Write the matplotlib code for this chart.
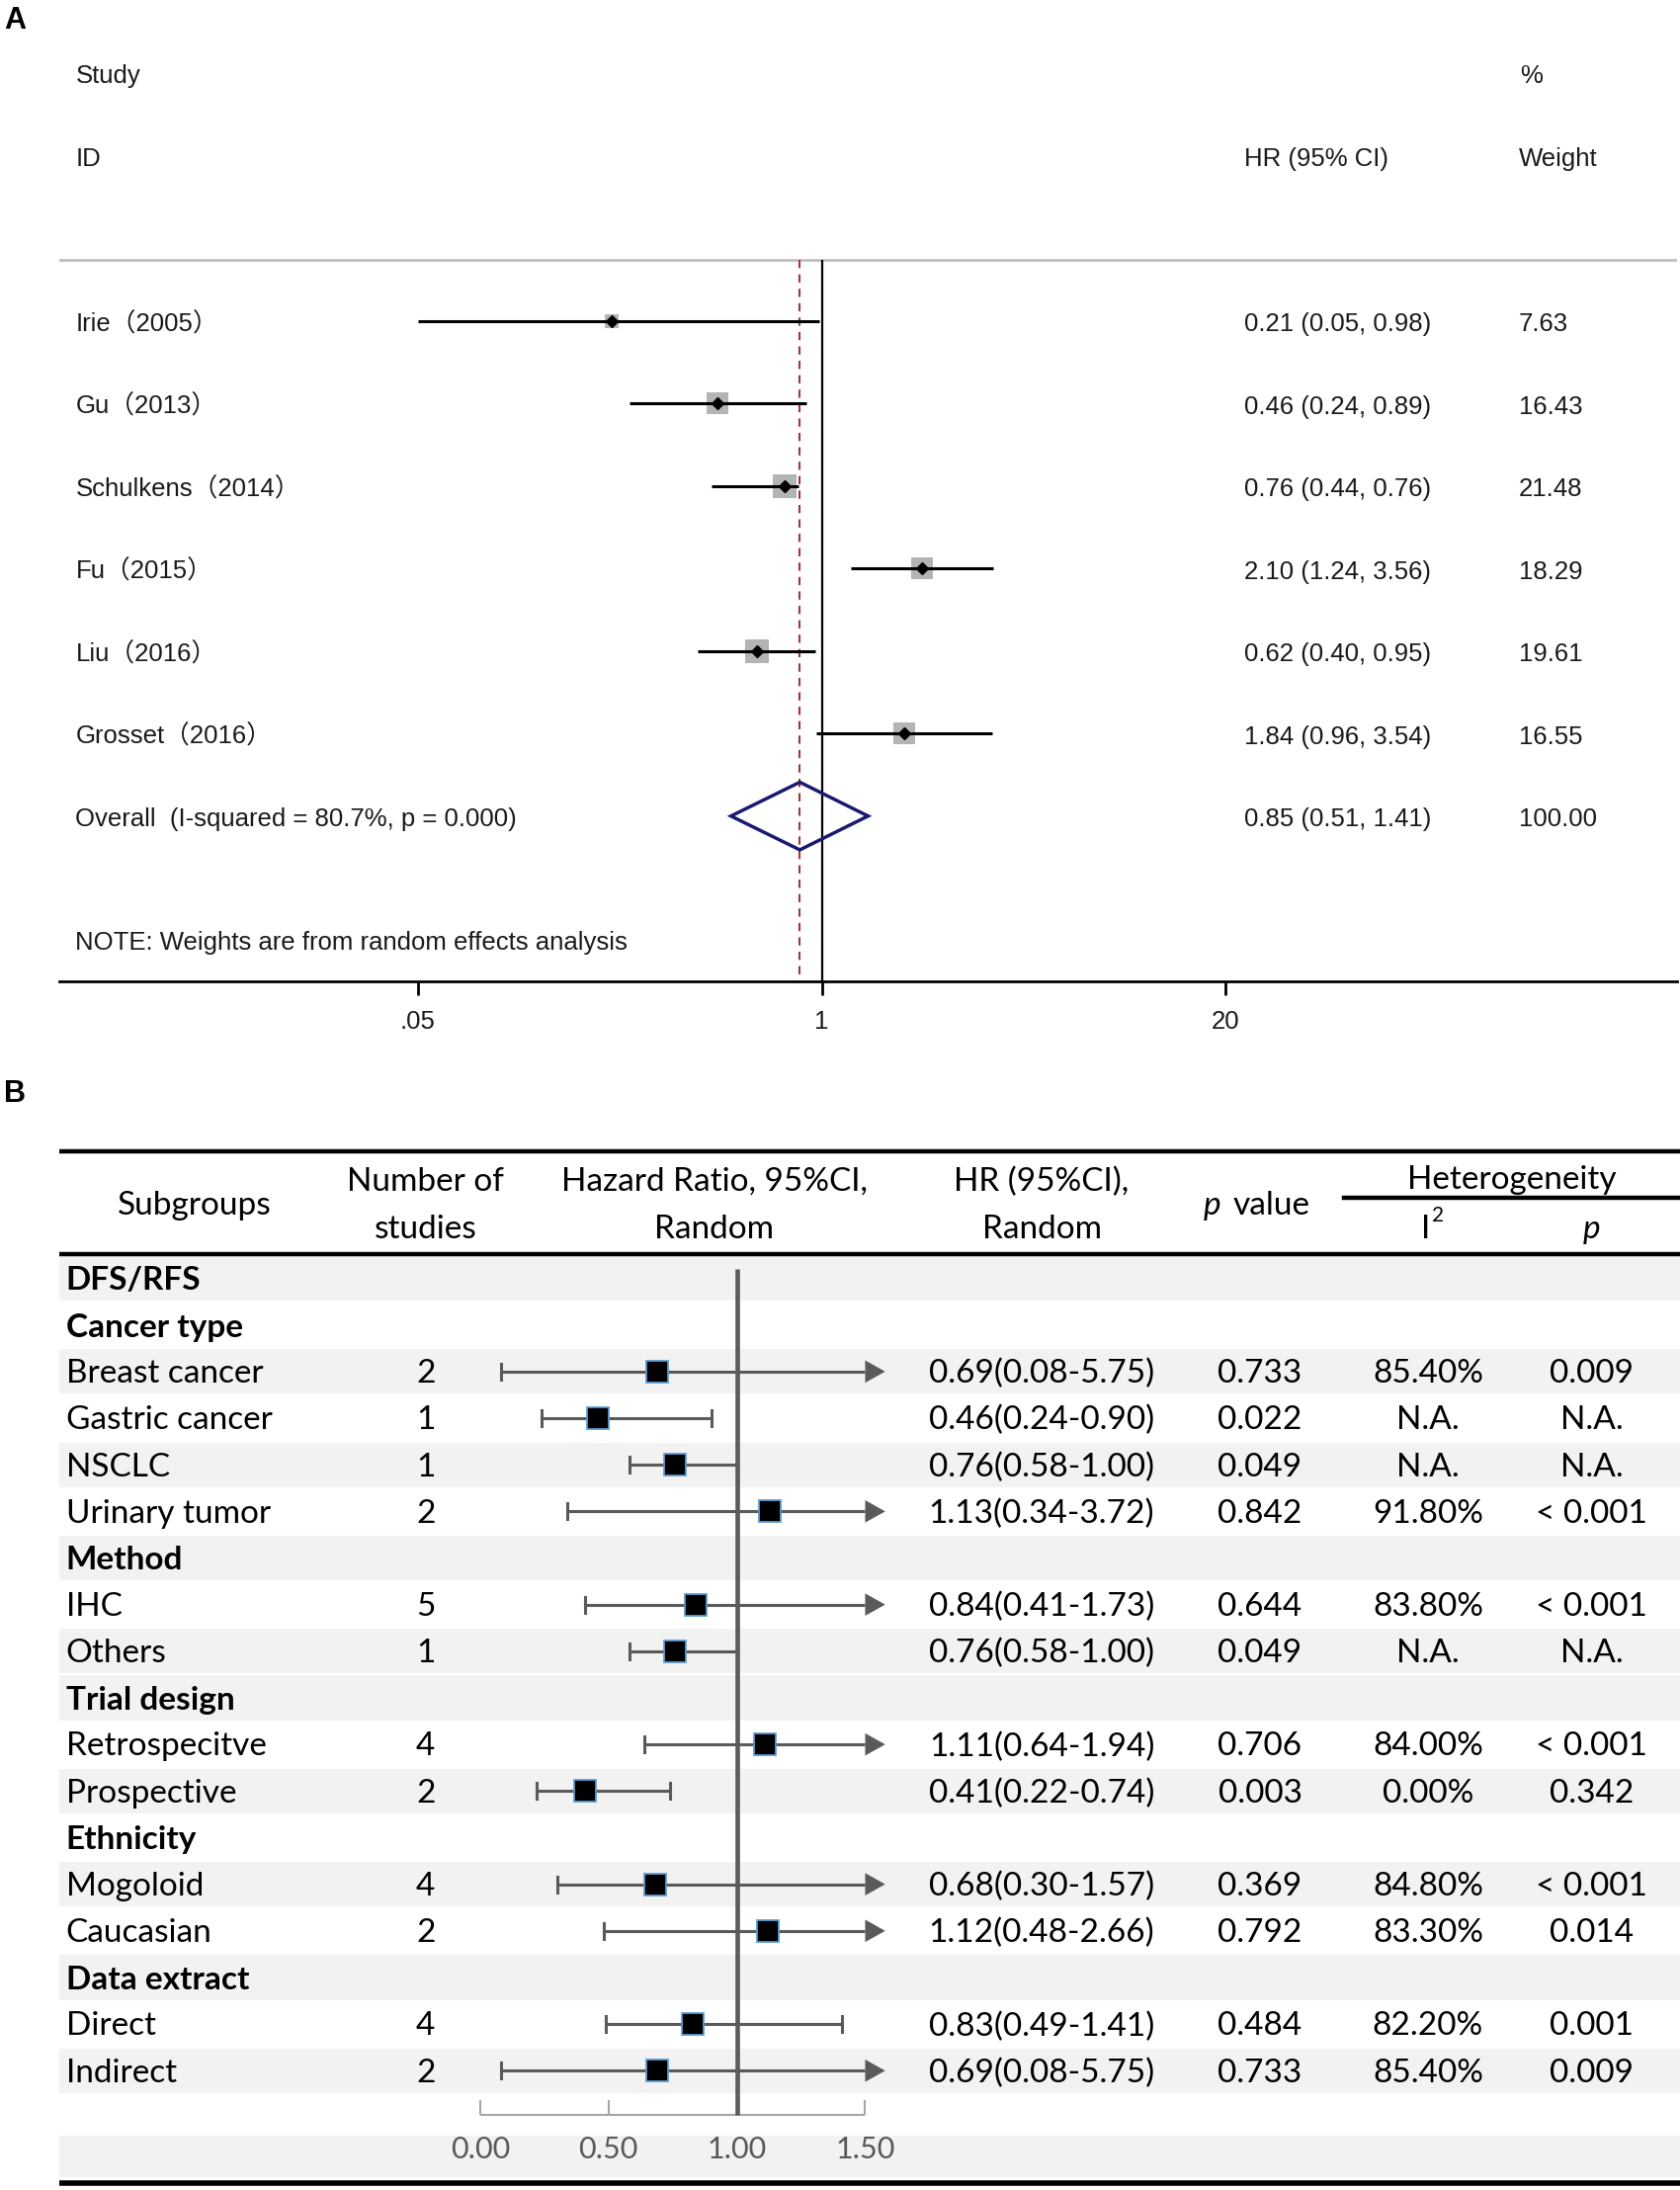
import matplotlib
matplotlib.use('Agg')
import matplotlib.pyplot as plt
import numpy as np

plt.rcParams['font.family'] = ['Liberation Sans', 'Noto Sans CJK SC']

# ---------------- Panel A data (Stata forest plot) ----------------
studies_a = ['Irie（2005）', 'Gu（2013）', 'Schulkens（2014）',
             'Fu（2015）', 'Liu（2016）', 'Grosset（2016）']
hr_a = [0.21, 0.46, 0.76, 2.10, 0.62, 1.84]
lo_a = [0.05, 0.24, 0.44, 1.24, 0.40, 0.96]
hi_a = [0.98, 0.89, 0.84, 3.56, 0.95, 3.54]
weight_a = [7.63, 16.43, 21.48, 18.29, 19.61, 16.55]
hr_text_a = ['0.21 (0.05, 0.98)', '0.46 (0.24, 0.89)', '0.76 (0.44, 0.76)',
             '2.10 (1.24, 3.56)', '0.62 (0.40, 0.95)', '1.84 (0.96, 3.54)']
weight_text_a = ['7.63', '16.43', '21.48', '18.29', '19.61', '16.55']
overall_hr, overall_lo, overall_hi = 0.85, 0.51, 1.41
overall_label = 'Overall  (I-squared = 80.7%, p = 0.000)'
overall_text = '0.85 (0.51, 1.41)'
overall_weight = '100.00'
ticks_a = [0.05, 1, 20]
tick_labels_a = ['.05', '1', '20']

# ---------------- Panel B data (subgroup table) ----------------
labels_b = ['DFS/RFS', 'Cancer type', 'Breast cancer', 'Gastric cancer', 'NSCLC',
            'Urinary tumor', 'Method', 'IHC', 'Others', 'Trial design',
            'Retrospecitve', 'Prospective', 'Ethnicity', 'Mogoloid', 'Caucasian',
            'Data extract', 'Direct', 'Indirect']
is_header_b = [1, 1, 0, 0, 0, 0, 1, 0, 0, 1, 0, 0, 1, 0, 0, 1, 0, 0]
shaded_b = [1, 0, 1, 0, 1, 0, 1, 0, 1, 1, 0, 1, 0, 1, 0, 1, 0, 1]
n_studies_b = ['', '', '2', '1', '1', '2', '', '5', '1', '', '4', '2', '', '4', '2', '', '4', '2']
nan = np.nan
hr_b = [nan, nan, 0.69, 0.46, 0.76, 1.13, nan, 0.84, 0.76, nan, 1.11, 0.41, nan, 0.68, 1.12, nan, 0.83, 0.69]
lo_b = [nan, nan, 0.08, 0.24, 0.58, 0.34, nan, 0.41, 0.58, nan, 0.64, 0.22, nan, 0.30, 0.48, nan, 0.49, 0.08]
hi_b = [nan, nan, 5.75, 0.90, 1.00, 3.72, nan, 1.73, 1.00, nan, 1.94, 0.74, nan, 1.57, 2.66, nan, 1.41, 5.75]
pval_b = ['', '', '0.733', '0.022', '0.049', '0.842', '', '0.644', '0.049', '', '0.706', '0.003',
          '', '0.369', '0.792', '', '0.484', '0.733']
i2_b = ['', '', '85.40%', 'N.A.', 'N.A.', '91.80%', '', '83.80%', 'N.A.', '', '84.00%', '0.00%',
        '', '84.80%', '83.30%', '', '82.20%', '85.40%']
phet_b = ['', '', '0.009', 'N.A.', 'N.A.', '< 0.001', '', '< 0.001', 'N.A.', '', '< 0.001', '0.342',
          '', '< 0.001', '0.014', '', '0.001', '0.009']
ticks_b = [0.0, 0.5, 1.0, 1.5]

# layout reference units (reference picture is 1200 x 1567)
W, H = 1200.0, 1567.0


def fig_rect(x0, y0, x1, y1):
    return [x0 / W, 1 - y1 / H, (x1 - x0) / W, (y1 - y0) / H]


fig = plt.figure(figsize=(17, 22.16), dpi=100)

# ================= Panel A =================
TXT_A = '#1a1a1a'
FS_A = 18.5
ax_a = fig.add_axes(fig_rect(42, 17, 1198, 702))
ax_a.set_xscale('log')
ax_a.set_xlim(0.00349, 569)
ax_a.set_ylim(8.0, -3.6)
for s in ['top', 'left', 'right']:
    ax_a.spines[s].set_visible(False)
ax_a.spines['bottom'].set_linewidth(2)
ax_a.set_yticks([])
ax_a.set_xticks(ticks_a)
ax_a.set_xticklabels(tick_labels_a, fontsize=FS_A, color=TXT_A)
ax_a.minorticks_off()
ax_a.tick_params(axis='x', direction='out', length=10, width=2, pad=11)

ta = ax_a.get_yaxis_transform()
DY = 0.04  # small nudge so text sits on the row centre


def colx(px):
    return (px - 42) / 1156.0


def atext(px, row, s):
    ax_a.text(colx(px), row + DY, s, transform=ta, fontsize=FS_A, va='center', color=TXT_A)


atext(54, -3, 'Study')
atext(54, -2, 'ID')
atext(889, -2, 'HR (95% CI)')
atext(1086, -3, '%')
atext(1085, -2, 'Weight')

ax_a.axhline(-0.74, color='#c0c0c0', lw=2, zorder=1)
ax_a.vlines(1, -0.74, 8.0, color='black', lw=1.6, zorder=2)
ax_a.vlines(overall_hr, -0.74, 8.0, color='#a8323a', lw=1.5,
            linestyles=(0, (4, 3)), zorder=2)

for i in range(len(studies_a)):
    ax_a.scatter([hr_a[i]], [i], marker='s', s=14 * weight_a[i],
                 color='#b4b4b4', zorder=3, linewidths=0)
    ax_a.plot([lo_a[i], hi_a[i]], [i, i], color='black', lw=2.2,
              solid_capstyle='butt', zorder=4)
    ax_a.plot([hr_a[i]], [i], marker='D', ms=6, color='black', zorder=5)
    atext(54, i, studies_a[i])
    atext(889, i, hr_text_a[i])
    atext(1085, i, weight_text_a[i])

row_ov = len(studies_a)
ax_a.fill([overall_lo, overall_hr, overall_hi, overall_hr],
          [row_ov, row_ov - 0.41, row_ov, row_ov + 0.41],
          facecolor='none', edgecolor='#1b1b6e', lw=2.5, zorder=5)
atext(54, row_ov, overall_label)
atext(889, row_ov, overall_text)
atext(1085, row_ov, overall_weight)
atext(54, 7.5, 'NOTE: Weights are from random effects analysis')

fig.text(3 / W, 1 - 15 / H, 'A', fontsize=22, fontweight='bold', va='center', ha='left')
fig.text(3 / W, 1 - 783 / H, 'B', fontsize=22, fontweight='bold', va='center', ha='left')

# ================= Panel B =================
FONT_B = 'Lato'
FS_B = 24
CI_COL = '#5a5a5a'
ax_b = fig.add_axes(fig_rect(42, 820, 1200, 1566))
ax_b.set_xlim(-1.642, 4.675)
ax_b.set_ylim(19.53, -2.839)
ax_b.axis('off')
tb = ax_b.get_yaxis_transform()


def bx(px):
    return (px - 42) / 1158.0


def btext(px, row, s, ha='center', **kw):
    kw.setdefault('fontsize', FS_B)
    ax_b.text(bx(px), row + 0.05, s, transform=tb, ha=ha, va='center', family=FONT_B, **kw)


# row shading
for i, sh in enumerate(shaded_b):
    if sh:
        ax_b.axhspan(i - 0.48, i + 0.48, color='#f2f2f2', lw=0, zorder=0)
ax_b.axhspan(18.39, 19.29, color='#f2f2f2', lw=0, zorder=0)

# table rules
ax_b.axhline(-2.72, color='black', lw=3.2, zorder=2)
ax_b.axhline(-0.53, color='black', lw=3.2, zorder=2)
ax_b.axhline(19.41, color='black', lw=4, zorder=2)
ax_b.axhline(-1.73, xmin=bx(960), xmax=1.0, color='black', lw=3.2, zorder=2)

# header
btext(139, -1.61, 'Subgroups')
btext(304, -2.12, 'Number of')
btext(304, -1.10, 'studies')
btext(510, -2.12, 'Hazard Ratio, 95%CI,')
btext(510, -1.10, 'Random')
btext(744, -2.12, 'HR (95%CI),')
btext(744, -1.10, 'Random')
btext(866, -1.61, 'p', style='italic')
btext(881, -1.61, 'value', ha='left')
btext(1080, -2.15, 'Heterogeneity')
btext(1018, -1.10, 'I')
btext(1023, -1.40, '2', ha='left', fontsize=15)
btext(1137, -1.10, 'p', style='italic')

# rows
for i, lab in enumerate(labels_b):
    btext(47, i, lab, ha='left', fontweight='bold' if is_header_b[i] else 'normal')
    if is_header_b[i]:
        continue
    btext(304, i, n_studies_b[i])
    btext(744, i, f'{hr_b[i]:.2f}({lo_b[i]:.2f}-{hi_b[i]:.2f})')
    btext(900, i, pval_b[i])
    btext(1020, i, i2_b[i])
    btext(1137, i, phet_b[i])

    x_end = min(hi_b[i], ticks_b[-1])
    ax_b.plot([lo_b[i], x_end], [i, i], color=CI_COL, lw=2.2, solid_capstyle='butt', zorder=3)
    ax_b.plot([lo_b[i], lo_b[i]], [i - 0.17, i + 0.17], color=CI_COL, lw=2.2, zorder=3)
    if hi_b[i] > ticks_b[-1]:
        ax_b.fill([x_end, x_end + 0.078, x_end], [i - 0.24, i, i + 0.24],
                  color=CI_COL, lw=0, zorder=3)
    else:
        ax_b.plot([hi_b[i], hi_b[i]], [i - 0.17, i + 0.17], color=CI_COL, lw=2.2, zorder=3)
    ax_b.plot([hr_b[i]], [i], marker='s', ms=16, mfc='black', mec='#5b9bd5', mew=1.3, zorder=6)

# reference line at HR = 1
ax_b.vlines(1.0, -0.2, 17.94, color=CI_COL, lw=3.3, zorder=4)

# bottom axis
ax_b.hlines(17.94, ticks_b[0], ticks_b[-1], color='#a6a6a6', lw=1.5, zorder=3)
ax_b.vlines(ticks_b, 17.64, 17.94, color='#a6a6a6', lw=1.5, zorder=3)
for t in ticks_b:
    ax_b.text(t, 18.7, f'{t:.2f}', ha='center', va='center', family=FONT_B,
              fontsize=22, color='#595959')

fig.savefig('out.png', dpi=100)
